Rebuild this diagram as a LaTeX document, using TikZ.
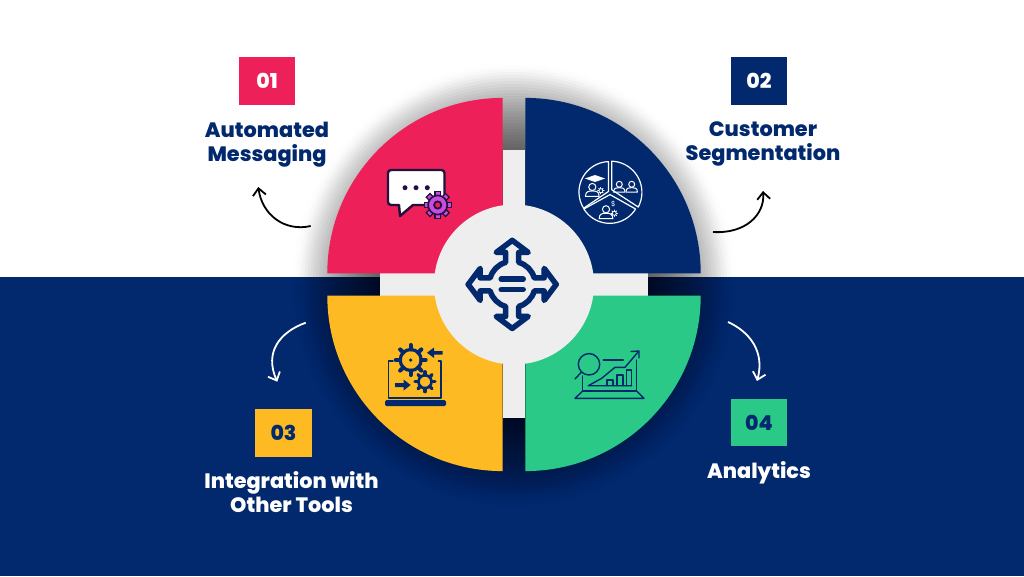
\documentclass[tikz,border=0pt]{standalone}
\usepackage{fontspec}
\setmainfont{Poppins}
\newfontfamily\headfont{Poppins ExtraBold}
\usetikzlibrary{positioning,arrows.meta}

\definecolor{navy}{HTML}{02296D}
\definecolor{rosered}{HTML}{EE2059}
\definecolor{sunyellow}{HTML}{FEBA22}
\definecolor{mint}{HTML}{2AC987}
\definecolor{paleback}{HTML}{EEEEEE}
\definecolor{darkplum}{HTML}{24103F}
\definecolor{orchid}{HTML}{C94CE2}

% cog: x, y, ring radius, tooth length, ring width
\newcommand{\cogwheel}[5]{
  \draw[line width=#5] (#1,#2) circle (#3);
  \foreach \a in {0,45,...,315}
    \draw[line width=#5*1.25] (#1,#2) ++(\a:#3) -- ++(\a:#4);
}
% person: x, y of the head, head radius
\newcommand{\personmark}[3]{
  \draw (#1,#2) circle (#3);
  \draw (#1-1.9*#3,#2+2.6*#3) -- (#1+1.9*#3,#2+2.6*#3)
    .. controls (#1+1.9*#3,#2+1.2*#3) and (#1+1*#3,#2+1.1*#3) .. (#1,#2+1.1*#3)
    .. controls (#1-1*#3,#2+1.1*#3) and (#1-1.9*#3,#2+1.2*#3) .. cycle;
}

\begin{document}
\begin{tikzpicture}[x=1pt, y=-1pt,
    numbox/.style = {minimum width=56.5pt, minimum height=47.5pt, inner sep=0pt, font=\headfont\fontsize{20.5}{24}\selectfont},
    title/.style = {inner sep=0pt, align=center, font=\headfont\fontsize{20.8}{24}\selectfont},
    bendline/.style = {line width=1.8pt, -{Straight Barb[length=7pt,width=13pt]}},
    thin icon/.style = {line width=1.2pt, line join=round, line cap=round}]
  \useasboundingbox (0,0) rectangle (1024,576);

  % two halves of the page
  \fill[white] (0,0) rectangle (1024,277);
  \fill[navy] (0,277) rectangle (1024,576);

  % soft shadow round the wheel
  \foreach \r [evaluate=\r as \op using {min(0.03,0.003+0.0022*(222-\r))}] in {222,219,...,120}
    \fill[black, opacity=\op] (514,285) circle (\r);

  % cross and hub
  \fill[paleback] (380,273.3) rectangle (648,295.7);
  \fill[paleback] (502.7,150) rectangle (525.3,418);

  % quarter wedges
  \fill[rosered] (502.7,273.3) -- (327.3,273.3) arc (180:270:175.4) -- cycle;
  \fill[navy] (525.3,273.3) -- (700.7,273.3) arc (360:270:175.4) -- cycle;
  \fill[sunyellow] (502.7,295.7) -- (327.3,295.7) arc (180:90:175.4) -- cycle;
  \fill[mint] (525.3,295.7) -- (700.7,295.7) arc (0:90:175.4) -- cycle;
  \fill[paleback] (514,284.5) circle (80);

  % hub icon
  \begin{scope}[shift={(512.2,284.4)}, navy, line width=5.5pt, line join=round, line cap=round]
    \foreach \a in {0,90,180,270}
      \draw[rotate=\a] (0,-44) -- (16,-32) -- (6.5,-32) -- (6.5,-22)
        .. controls (14,-20) and (20,-14) .. (22,-6.5) -- (32,-6.5) -- (32,-16) -- (44,0);
    \draw (-11,-5.2) -- (11,-5.2);
    \draw (-11,5.2) -- (11,5.2);
  \end{scope}

  % chat icon
  \draw[line width=2.4pt, line join=round, fill=white, draw=darkplum]
    (391,170) -- (441.5,170) arc (270:360:3) -- (444.5,202) arc (0:90:3) -- (413,205) -- (400,216) -- (399,205) -- (391,205)
    arc (90:180:3) -- (388,173) arc (180:270:3) -- cycle;
  \foreach \x in {405,416,427.3}
    \fill[darkplum] (\x,187.7) circle (2.5);
  \begin{scope}[draw=darkplum, line cap=butt]
    \foreach \a in {0,45,...,315}
      \draw[line width=6.5pt] (437.7,205) ++(\a:8) -- ++(\a:6.2);
    \foreach \a in {0,45,...,315}
      \draw[orchid, line width=3.8pt] (437.7,205) ++(\a:8) -- ++(\a:4.8);
    \fill[orchid, draw=darkplum, line width=1.6pt] (437.7,205) circle (9.6);
    \fill[rosered, draw=darkplum, line width=1.8pt] (437.7,205) circle (3.6);
  \end{scope}

  % segments icon
  \begin{scope}[white, thin icon, line width=1pt]
    \draw[line width=1.2pt] (608.4,191.5) -- (608.4,161.6) arc (268:148:30.5) -- cycle;
    \draw[line width=1.2pt] (611.8,189.8) -- (611.8,161.2) arc (272:388:31.2) -- cycle;
    \draw[line width=1.2pt] (610,194.6) -- (635.6,209) arc (32:148:30.5) -- cycle;
    \personmark{592.3}{187}{3.6}
    \personmark{619.3}{184.3}{3}
    \personmark{631.7}{184.3}{3}
    \personmark{606}{209.3}{3.6}
    \cogwheel{600.9}{190.7}{2}{1.2}{0.7pt}
    \cogwheel{614.3}{213.3}{2}{1.2}{0.7pt}
    \fill (585,178.5) -- (595,175) -- (605,178.5) -- (595,182) -- cycle;
    \node[inner sep=0pt, font=\fontsize{7}{7}\selectfont] (dollar) at (613.3,204.3) {\$};
  \end{scope}

  % laptop with gears icon
  \begin{scope}[navy, line join=round, line cap=round]
    \draw[line width=1.8pt] (393,361) -- (388.5,361) -- (388.5,398) -- (440.7,398) -- (440.7,361) -- (438.5,361);
    \fill[rounded corners=1.5pt] (385,400) rectangle (446,406);
    \cogwheel{410.7}{360}{10.5}{4.5}{3.2pt}
    \fill (410.7,360) circle (1.8);
    \cogwheel{425}{381.7}{6.5}{3.5}{2.6pt}
    \fill (442.7,351) -- (434,351) -- (434,347.5) -- (427,352.7) -- (434,358) -- (434,354.5) -- (442.7,354.5) -- cycle;
    \fill (395,383) -- (403.5,383) -- (403.5,379.5) -- (410.7,385) -- (403.5,390.5) -- (403.5,387) -- (395,387) -- cycle;
  \end{scope}

  % analytics icon
  \begin{scope}[navy, thin icon, line width=1.4pt]
    \draw (589,364.3) circle (10.7);
    \draw (581.5,372) -- (575,379);
    \draw (603.3,360) -- (623.3,360);
    \draw (582.7,376) -- (582.7,391) -- (636.7,391) -- (636.7,360);
    \draw (582.7,391) -- (575,398.3) -- (644,398.3) -- (636.7,391);
    \draw (631.7,385.7) -- (588.3,385.7) -- (601.7,378.3) -- (615,367.3) -- (625,367.3) -- (638.3,351.7);
    \draw (631,351.5) -- (639,351) -- (639,358);
    \draw (607,385.7) -- (607,380) -- (613,380) -- (613,385.7);
    \draw (617,385.7) -- (617,375) -- (623,375) -- (623,385.7);
    \draw (626.5,385.7) -- (626.5,370) -- (631.7,370) -- (631.7,385.7);
  \end{scope}

  % number boxes and titles
  \node[numbox, fill=rosered, text=white] (num1) at (267,81) {01};
  \node[title, text=navy] (title1) [below=16.5pt of num1] {Automated\\Messaging};
  \node[numbox, fill=navy, text=white] (num2) at (759,81) {02};
  \node[title, text=navy] (title2) [below=16.5pt of num2, xshift=4pt] {Customer\\Segmentation};
  \node[numbox, fill=sunyellow, text=navy] (num3) at (283.5,433) {03};
  \node[title, text=white] (title3) [below=14.5pt of num3, xshift=8pt] {Integration with\\Other Tools};
  \node[numbox, fill=mint, text=navy] (num4) at (759,422.5) {04};
  \node[title, text=white] (title4) [below=14.5pt of num4] {Analytics};

  % curved arrows
  \coordinate (tail1) at (310.7,226);
  \coordinate (head1) at (258.3,187);
  \coordinate (tail2) at (713,232);
  \coordinate (head2) at (763,191);
  \coordinate (tail3) at (305.7,322.7);
  \coordinate (head3) at (277.3,381.7);
  \coordinate (tail4) at (728,322);
  \coordinate (head4) at (757,381);
  \draw[bendline, black] (tail1) .. controls (285,232) and (262,215) .. (head1);
  \draw[bendline, black] (tail2) .. controls (745,234) and (765,215) .. (head2);
  \draw[bendline, white] (tail3) .. controls (280,332) and (264,352) .. (head3);
  \draw[bendline, white] (tail4) .. controls (750,332) and (765,352) .. (head4);
\end{tikzpicture}
\end{document}
